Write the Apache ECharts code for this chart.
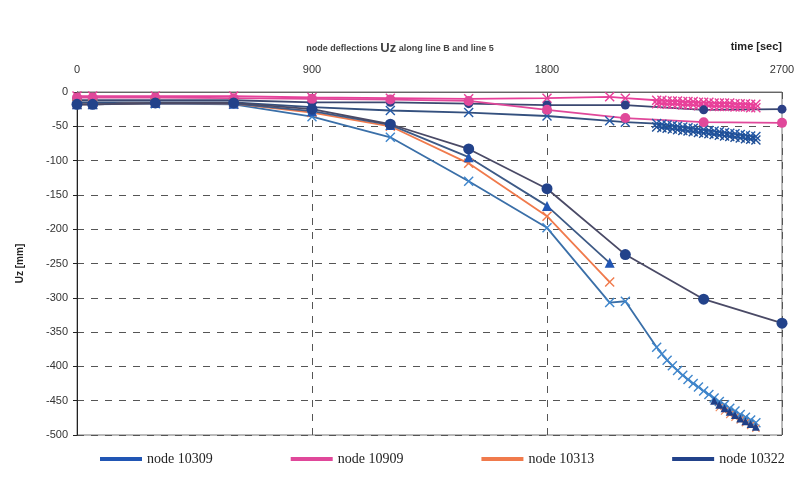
<!DOCTYPE html>
<html>
<head>
<meta charset="utf-8">
<script src="https://cdn.jsdelivr.net/npm/echarts@6/dist/echarts.min.js"></script>
<style>
  html, body { margin: 0; padding: 0; background: #fff; }
  #chart { width: 800px; height: 477px; }
</style>
</head>
<body>
<div id="chart"></div>
<script>
// time steps [sec]
var tMain = [0, 60, 300, 600, 900, 1200, 1500, 1800, 2040, 2100, 2400, 2700];
var tDense = [2220, 2240, 2260, 2280, 2300, 2320, 2340, 2360, 2380, 2400, 2420, 2440, 2460, 2480, 2500, 2520, 2540, 2560, 2580, 2600];
var xTicks = [0, 900, 1800, 2700];

// deflections Uz [mm], lower group
var node10322 = [-18, -18, -16, -16, -25, -47, -83, -141, null, -237, -302, -337];
var node10309 = [-18, -18, -16, -17, -28, -48, -95, -166, -249, null, null, null];
var node10313 = [-18, -18, -16, -17, -30, -50, -104, -181, -277, null, null, null];
var crossLow = [-18, -18, -17, -18, -36, -66, -130, -198, -307, -305, null, null];
var crossLowTail = [-372, -382, -391, -399, -406, -413, -419, -425, -430, -436, -441, -446, -451, -456, -461, -465, -470, -474, -478, -482];
var navyLowTail = [null, null, null, null, null, null, null, null, null, null, null, -450, -456, -461, -466, -471, -476, -480, -484, -488];
var orangeLowTail = [null, null, null, null, null, null, null, null, null, null, null, null, -460, -465, -470, -474, -478, -482, -486, -490];

// upper group
var node10909 = [-8, -8, -8, -9, -10, -11, -13, -26, null, -38, -44, -45];
var circTop = [-12, -12, -12, -12, -15, -15, -17, -19, null, -19, -26, -25];
var pinkCross = [-6, -6, -6, -6, -8, -9, -10, -9, -7, -9, null, null];
var pinkCrossTail = [-12, -12, -13, -13, -13, -14, -14, -14, -15, -15, -15, -16, -16, -16, -16, -17, -17, -17, -18, -18];
var pinkCrossTail2 = [-17, -17, -18, -18, -18, -19, -19, -19, -20, -20, -20, -21, -21, -21, -21, -22, -22, -22, -23, -23];
var blueCross = [-15, -15, -15, -15, -22, -27, -30, -35, -42, -44, null, null];
var blueCrossTail = [-46, -47, -48, -49, -50, -51, -52, -53, -54, -55, -56, -57, -58, -59, -60, -61, -62, -63, -64, -65];
var blueCrossTail2 = [-51, -52, -53, -54, -55, -56, -57, -58, -59, -60, -61, -62, -63, -64, -65, -66, -67, -68, -69, -70];

var crossPath = 'path://M0,1L1,0L5,4L9,0L10,1L6,5L10,9L9,10L5,6L1,10L0,9L4,5Z';

function pairs(ts, vs) {
  var out = [];
  for (var i = 0; i < ts.length; i++) out.push([ts[i], vs[i]]);
  return out;
}

function mk(name, data, color, symbol, size, lineColor) {
  return {
    name: name,
    type: 'line',
    data: data,
    connectNulls: true,
    symbol: symbol,
    symbolSize: size,
    showSymbol: true,
    itemStyle: { color: color },
    lineStyle: { color: lineColor || color, width: 1.8 },
    emphasis: { disabled: true },
    z: 3
  };
}

var option = {
  backgroundColor: '#fff',
  animation: false,
  title: {
    text: '{s|node deflections }{b|Uz}{s| along line B and line 5}',
    left: 'center',
    top: 37,
    textStyle: {
      rich: {
        s: { fontSize: 9, fontWeight: 'bold', color: '#444', fontFamily: 'Arial' },
        b: { fontSize: 13, fontWeight: 'bold', color: '#444', fontFamily: 'Arial' }
      }
    }
  },
  grid: { left: 77, right: 18, top: 92, bottom: 42, show: true, borderColor: '#777', borderWidth: 1 },
  legend: {
    left: 95,
    bottom: 6,
    width: 1000,
    itemGap: 78,
    itemWidth: 42,
    itemHeight: 4,
    icon: 'rect',
    data: ['node 10309', 'node 10909', 'node 10313', 'node 10322'],
    textStyle: { fontFamily: 'Liberation Serif', fontSize: 14, color: '#222' }
  },
  xAxis: {
    type: 'value',
    position: 'top',
    min: 0,
    max: 2700,
    interval: 900,
    name: 'time [sec]',
    nameLocation: 'end',
    nameGap: 0,
    nameTextStyle: { fontFamily: 'Arial', fontSize: 11, fontWeight: 'bold', color: '#222', align: 'right', verticalAlign: 'bottom', padding: [0, 0, 40, 0] },
    axisLine: { show: true, lineStyle: { color: '#666' } },
    axisTick: { show: false },
    axisLabel: {
      margin: 17,
      fontFamily: 'Arial', fontSize: 11, color: '#333',
      formatter: function (v) { return xTicks.indexOf(v) >= 0 ? String(v) : ''; }
    },
    splitLine: { show: true, lineStyle: { color: '#555', type: [7, 7], width: 1 } }
  },
  yAxis: {
    type: 'value',
    min: -500,
    max: 0,
    interval: 50,
    name: 'Uz [mm]',
    nameLocation: 'middle',
    nameRotate: 90,
    nameGap: 52,
    nameTextStyle: { fontFamily: 'Arial', fontSize: 10, fontWeight: 'bold', color: '#222' },
    axisLine: { show: true, lineStyle: { color: '#222' } },
    axisTick: { show: true, inside: false, length: 4, lineStyle: { color: '#222' } },
    axisLabel: { fontFamily: 'Arial', fontSize: 11, color: '#333', margin: 9 },
    splitLine: { show: true, lineStyle: { color: '#555', type: [7, 7], width: 1 } }
  },
  series: [
    mk('pink x', pairs(tMain, pinkCross).concat(pairs(tDense, pinkCrossTail)), '#e8409a', crossPath, 10),
    mk('pink x2', pairs(tDense, pinkCrossTail2), '#e8409a', crossPath, 10),
    mk('blue x', pairs(tMain, blueCross).concat(pairs(tDense, blueCrossTail)), '#245aa8', crossPath, 10, '#34507e'),
    mk('blue x2', pairs(tDense, blueCrossTail2), '#1f4f96', crossPath, 10),
    mk('top circles', pairs(tMain, circTop), '#2b3f86', 'circle', 9, '#3b4870'),
    mk('node 10909', pairs(tMain, node10909), '#e0489a', 'circle', 10),
    mk('cross low', pairs(tMain, crossLow).concat(pairs(tDense, crossLowTail)), '#3f86cc', crossPath, 10, '#3a6fa8'),
    mk('orange tail', pairs(tDense, orangeLowTail), '#f08a5c', crossPath, 8),
    mk('navy tail', pairs(tDense, navyLowTail), '#1f3f86', 'triangle', 8),
    mk('node 10313', pairs(tMain, node10313), '#f07a4c', crossPath, 10),
    mk('node 10309', pairs(tMain, node10309), '#2156b4', 'triangle', 10, '#3d5a86'),
    mk('node 10322', pairs(tMain, node10322), '#22428a', 'circle', 11, '#4a4a66')
  ]
};

var chart = echarts.init(document.getElementById('chart'), null, { renderer: 'canvas' });
chart.setOption(option);
</script>
</body>
</html>
